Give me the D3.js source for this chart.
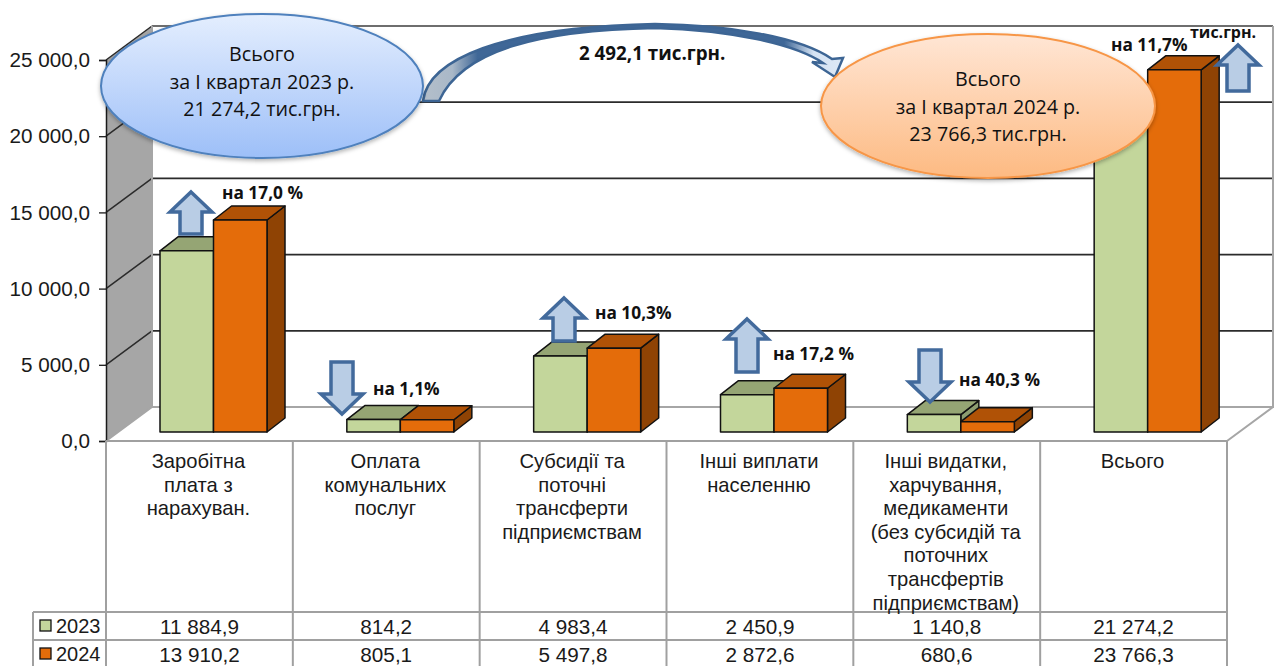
<!DOCTYPE html>
<html>
<head>
<meta charset="utf-8">
<script src="https://cdn.jsdelivr.net/npm/d3@7"></script>
<style>
  html, body { margin: 0; padding: 0; background: #fff; overflow: hidden; }
  svg { display: block; }
  .arial { font-family: "Liberation Sans", Arial, sans-serif; fill: #1a1a1a; }
  .note { font-family: "Open Sans", "Noto Sans", sans-serif; fill: #111; }
</style>
</head>
<body>
<div id="chart"></div>
<script>
const categories = [
  "Заробітна\nплата з\nнарахуван.",
  "Оплата\nкомунальних\nпослуг",
  "Субсидії та\nпоточні\nтрансферти\nпідприємствам",
  "Інші виплати\nнаселенню",
  "Інші видатки,\nхарчування,\nмедикаменти\n(без субсидій та\nпоточних\nтрансфертів\nпідприємствам)",
  "Всього"
];
const years = ["2023", "2024"];
const values2023 = [11884.9, 814.2, 4983.4, 2450.9, 1140.8, 21274.2];
const values2024 = [13910.2, 805.1, 5497.8, 2872.6, 680.6, 23766.3];
const yTicks = [0, 5000, 10000, 15000, 20000, 25000];
const changeLabels = ["на 17,0 %", "на 1,1%", "на 10,3%", "на 17,2 %", "на 40,3 %", "на 11,7%"];
const changeDirs = ["up", "down", "up", "up", "down", "up"];
const diffLabel = "2 492,1 тис.грн.";
const unitLabel = "тис.грн.";
const bubble2023 = ["Всього", "за І квартал 2023 р.", "21 274,2 тис.грн."];
const bubble2024 = ["Всього", "за І квартал 2024 р.", "23 766,3 тис.грн."];

const width = 1278, height = 666;
const x0 = 106, x1 = 1227, floorY = 441;
const wallDx = 46, wallDy = -34;
const barBase = 432, barDx = 18, barDy = -14;
const gridColor = "#2b2b2b", frameColor = "#a6a6a6", tableColor = "#a0a0a0";

const fmt = d3.formatLocale({decimal: ",", thousands: " ", grouping: [3], currency: ["", ""]}).format(",.1f");

const svg = d3.select("#chart").append("svg").attr("width", width).attr("height", height);
const defs = svg.append("defs");

function vGradient(id, top, bottom) {
  const g = defs.append("linearGradient").attr("id", id).attr("x1", 0).attr("y1", 0).attr("x2", 0).attr("y2", 1);
  g.append("stop").attr("offset", 0).attr("stop-color", top);
  g.append("stop").attr("offset", 1).attr("stop-color", bottom);
}
vGradient("blueFill", "#e4eefe", "#9dbff8");
vGradient("orangeFill", "#ffe6d5", "#fdba82");

const arcGrad = defs.append("linearGradient").attr("id", "arcFill");
[[0, "#b4bfca"], [0.07, "#a9b8c8"], [0.13, "#3f6797"], [0.86, "#3f6797"], [0.93, "#d5e3f3"], [1, "#dce8f5"]].forEach(d => {
  arcGrad.append("stop").attr("offset", d[0]).attr("stop-color", d[1]);
});

defs.append("filter").attr("id", "shadow").attr("x", "-10%").attr("y", "-10%").attr("width", "120%").attr("height", "125%")
  .append("feDropShadow").attr("dx", 0).attr("dy", 2).attr("stdDeviation", 2).attr("flood-color", "#000").attr("flood-opacity", 0.3);

const x = d3.scaleBand().domain(categories).range([x0, x1]);
const xSeries = d3.scaleBand().domain(years).range([54, 161]);
const yBar = d3.scaleLinear().domain([0, 25000]).range([barBase, barBase - 381]);
const yAxis = d3.scaleLinear().domain([0, 25000]).range([floorY, floorY - 381]);

// walls and floor
const wall = svg.append("g");
wall.append("polygon")
  .attr("points", [[x0, yAxis(25000)], [x0 + wallDx, yAxis(25000) + wallDy], [x0 + wallDx, floorY + wallDy], [x0, floorY]].join(" "))
  .attr("fill", "#a6a6a6");

wall.selectAll(".grid").data(yTicks.slice(1)).enter().append("line")
  .attr("class", "grid")
  .attr("x1", x0 + wallDx).attr("x2", x1 + wallDx)
  .attr("y1", d => yAxis(d) + wallDy).attr("y2", d => yAxis(d) + wallDy)
  .attr("stroke", d => d === 25000 ? "#6e6e6e" : gridColor).attr("stroke-width", 1.8);

wall.selectAll(".diag").data(yTicks.slice(1)).enter().append("line")
  .attr("class", "diag")
  .attr("x1", x0).attr("x2", x0 + wallDx)
  .attr("y1", d => yAxis(d)).attr("y2", d => yAxis(d) + wallDy)
  .attr("stroke", gridColor).attr("stroke-width", 1.5);

wall.append("path")
  .attr("d", `M${x0 + wallDx},${yAxis(25000) + wallDy}V${floorY + wallDy}H${x1 + wallDx}V${yAxis(25000) + wallDy}`)
  .attr("fill", "none").attr("stroke", frameColor).attr("stroke-width", 2);
wall.append("path")
  .attr("d", `M${x0},${floorY}L${x0 + wallDx},${floorY + wallDy}M${x1},${floorY}L${x1 + wallDx},${floorY + wallDy}`)
  .attr("fill", "none").attr("stroke", frameColor).attr("stroke-width", 2);

// value axis
const axisG = svg.append("g").attr("transform", `translate(${x0},0)`)
  .call(d3.axisLeft(yAxis).tickValues(yTicks).tickFormat(fmt).tickSize(7).tickPadding(9));
axisG.select(".domain").attr("stroke", "#1a1a1a").attr("stroke-width", 1.5);
axisG.selectAll("line").attr("stroke", "#1a1a1a").attr("stroke-width", 1.3);
axisG.selectAll("text").attr("class", "arial").style("font-size", "20.7px");
axisG.attr("font-family", null);

// bars
const seriesColors = {
  "2023": {front: "#c3d69b", top: "#95a574", side: "#8d9d70"},
  "2024": {front: "#e46c0a", top: "#b05206", side: "#8f4304"}
};
const bars = svg.append("g").attr("stroke", "#111").attr("stroke-width", 1.5).attr("stroke-linejoin", "round");
categories.forEach((c, i) => {
  [values2023[i], values2024[i]].forEach((v, s) => {
    const col = seriesColors[years[s]];
    const left = x(c) + xSeries(years[s]);
    const right = left + xSeries.bandwidth();
    const top = yBar(v);
    bars.append("polygon")
      .attr("points", [[right, top], [right + barDx, top + barDy], [right + barDx, barBase + barDy], [right, barBase]].join(" "))
      .attr("fill", col.side);
    bars.append("polygon")
      .attr("points", [[left, top], [left + barDx, top + barDy], [right + barDx, top + barDy], [right, top]].join(" "))
      .attr("fill", col.top);
    bars.append("rect")
      .attr("x", left).attr("y", top).attr("width", right - left).attr("height", barBase - top)
      .attr("fill", col.front);
  });
});

// data table
const rowA = 612, rowB = 640;
const table = svg.append("g").attr("stroke", tableColor).attr("stroke-width", 2).attr("fill", "none");
table.selectAll(".col").data(categories.concat("end")).enter().append("line")
  .attr("x1", (d, i) => x0 + i * x.bandwidth()).attr("x2", (d, i) => x0 + i * x.bandwidth())
  .attr("y1", floorY).attr("y2", height);
table.append("line").attr("x1", x0).attr("x2", x1).attr("y1", floorY).attr("y2", floorY);
table.selectAll(".row").data([rowA, rowB]).enter().append("line")
  .attr("x1", 33).attr("x2", x1).attr("y1", d => d).attr("y2", d => d);
table.append("line").attr("x1", 33).attr("x2", 33).attr("y1", rowA).attr("y2", height);

const catText = svg.append("g").attr("class", "arial").attr("text-anchor", "middle").style("font-size", "20.2px");
categories.forEach(c => {
  c.split("\n").forEach((line, k) => {
    catText.append("text")
      .attr("x", x(c) + x.bandwidth() / 2 - 1)
      .attr("y", 468 + k * 23.6)
      .text(line);
  });
});

[values2023, values2024].forEach((vals, r) => {
  const yText = (r ? rowB : rowA) + 22;
  svg.append("g").attr("class", "arial").attr("text-anchor", "middle").style("font-size", "20.7px")
    .selectAll("text").data(vals).enter().append("text")
    .attr("x", (d, i) => x(categories[i]) + x.bandwidth() / 2)
    .attr("y", yText)
    .text(fmt);
  svg.append("rect")
    .attr("x", 40).attr("y", yText - 14).attr("width", 11).attr("height", 11)
    .attr("fill", seriesColors[years[r]].front).attr("stroke", "#111").attr("stroke-width", 1.3);
  svg.append("text").attr("class", "arial").attr("x", 56).attr("y", yText - 1)
    .style("font-size", "20px").text(years[r]);
});

// change arrows
const arrowSpots = [[191, 192, 234], [342, 362, 414], [564, 298, 341], [747, 319, 372], [930, 350, 402], [1238, 45, 91]];
const arrows = svg.append("g").attr("fill", "#b9cde5").attr("stroke", "#426a9c").attr("stroke-width", 3.5).attr("stroke-linejoin", "miter");
arrowSpots.forEach((a, i) => {
  const cx = a[0], hw = 21, sw = 11, head = 20;
  const pts = changeDirs[i] === "up"
    ? [[cx, a[1]], [cx + hw, a[1] + head], [cx + sw, a[1] + head], [cx + sw, a[2]], [cx - sw, a[2]], [cx - sw, a[1] + head], [cx - hw, a[1] + head]]
    : [[cx, a[2]], [cx + hw, a[2] - head], [cx + sw, a[2] - head], [cx + sw, a[1]], [cx - sw, a[1]], [cx - sw, a[2] - head], [cx - hw, a[2] - head]];
  arrows.append("polygon").attr("points", pts.join(" "));
});

// curved difference arrow
svg.append("path")
  .attr("d", "M423,101 C428,60 500,27 655,24 C730,25 800,37 832,59 L843,58 L835,77 L812,62 L823,63 C795,44 730,30 655,28 C540,30 462,50 439,101 Z")
  .attr("fill", "url(#arcFill)").attr("stroke", "#3d6594").attr("stroke-width", 2.5).attr("stroke-linejoin", "miter");

// bubbles
function bubble(cx, cy, rx, ry, fill, stroke, lines, firstY) {
  svg.append("ellipse")
    .attr("cx", cx).attr("cy", cy).attr("rx", rx).attr("ry", ry)
    .attr("fill", fill).attr("stroke", stroke).attr("stroke-width", 2)
    .attr("filter", "url(#shadow)");
  svg.append("g").attr("class", "note").attr("text-anchor", "middle").style("font-size", "19.7px")
    .selectAll("text").data(lines).enter().append("text")
    .attr("x", cx).attr("y", (d, i) => firstY + i * 27.7)
    .text(d => d);
}
bubble(262, 86, 161, 72, "url(#blueFill)", "#4f81bd", bubble2023, 61);
bubble(988, 106, 167, 72, "url(#orangeFill)", "#f79646", bubble2024, 86);

// bold notes
const noteSpots = [[222, 199], [373, 395], [595, 319], [773, 360], [959, 386], [1111, 51]];
const notes = svg.append("g").attr("class", "note").style("font-size", "17.3px").style("font-weight", 700);
notes.selectAll("text").data(changeLabels).enter().append("text")
  .attr("x", (d, i) => noteSpots[i][0]).attr("y", (d, i) => noteSpots[i][1])
  .text(d => d);
notes.append("text").attr("x", 1190).attr("y", 38).style("font-size", "16px").text(unitLabel);
notes.append("text").attr("x", 579).attr("y", 60).style("font-size", "18.8px").text(diffLabel);
</script>
</body>
</html>
